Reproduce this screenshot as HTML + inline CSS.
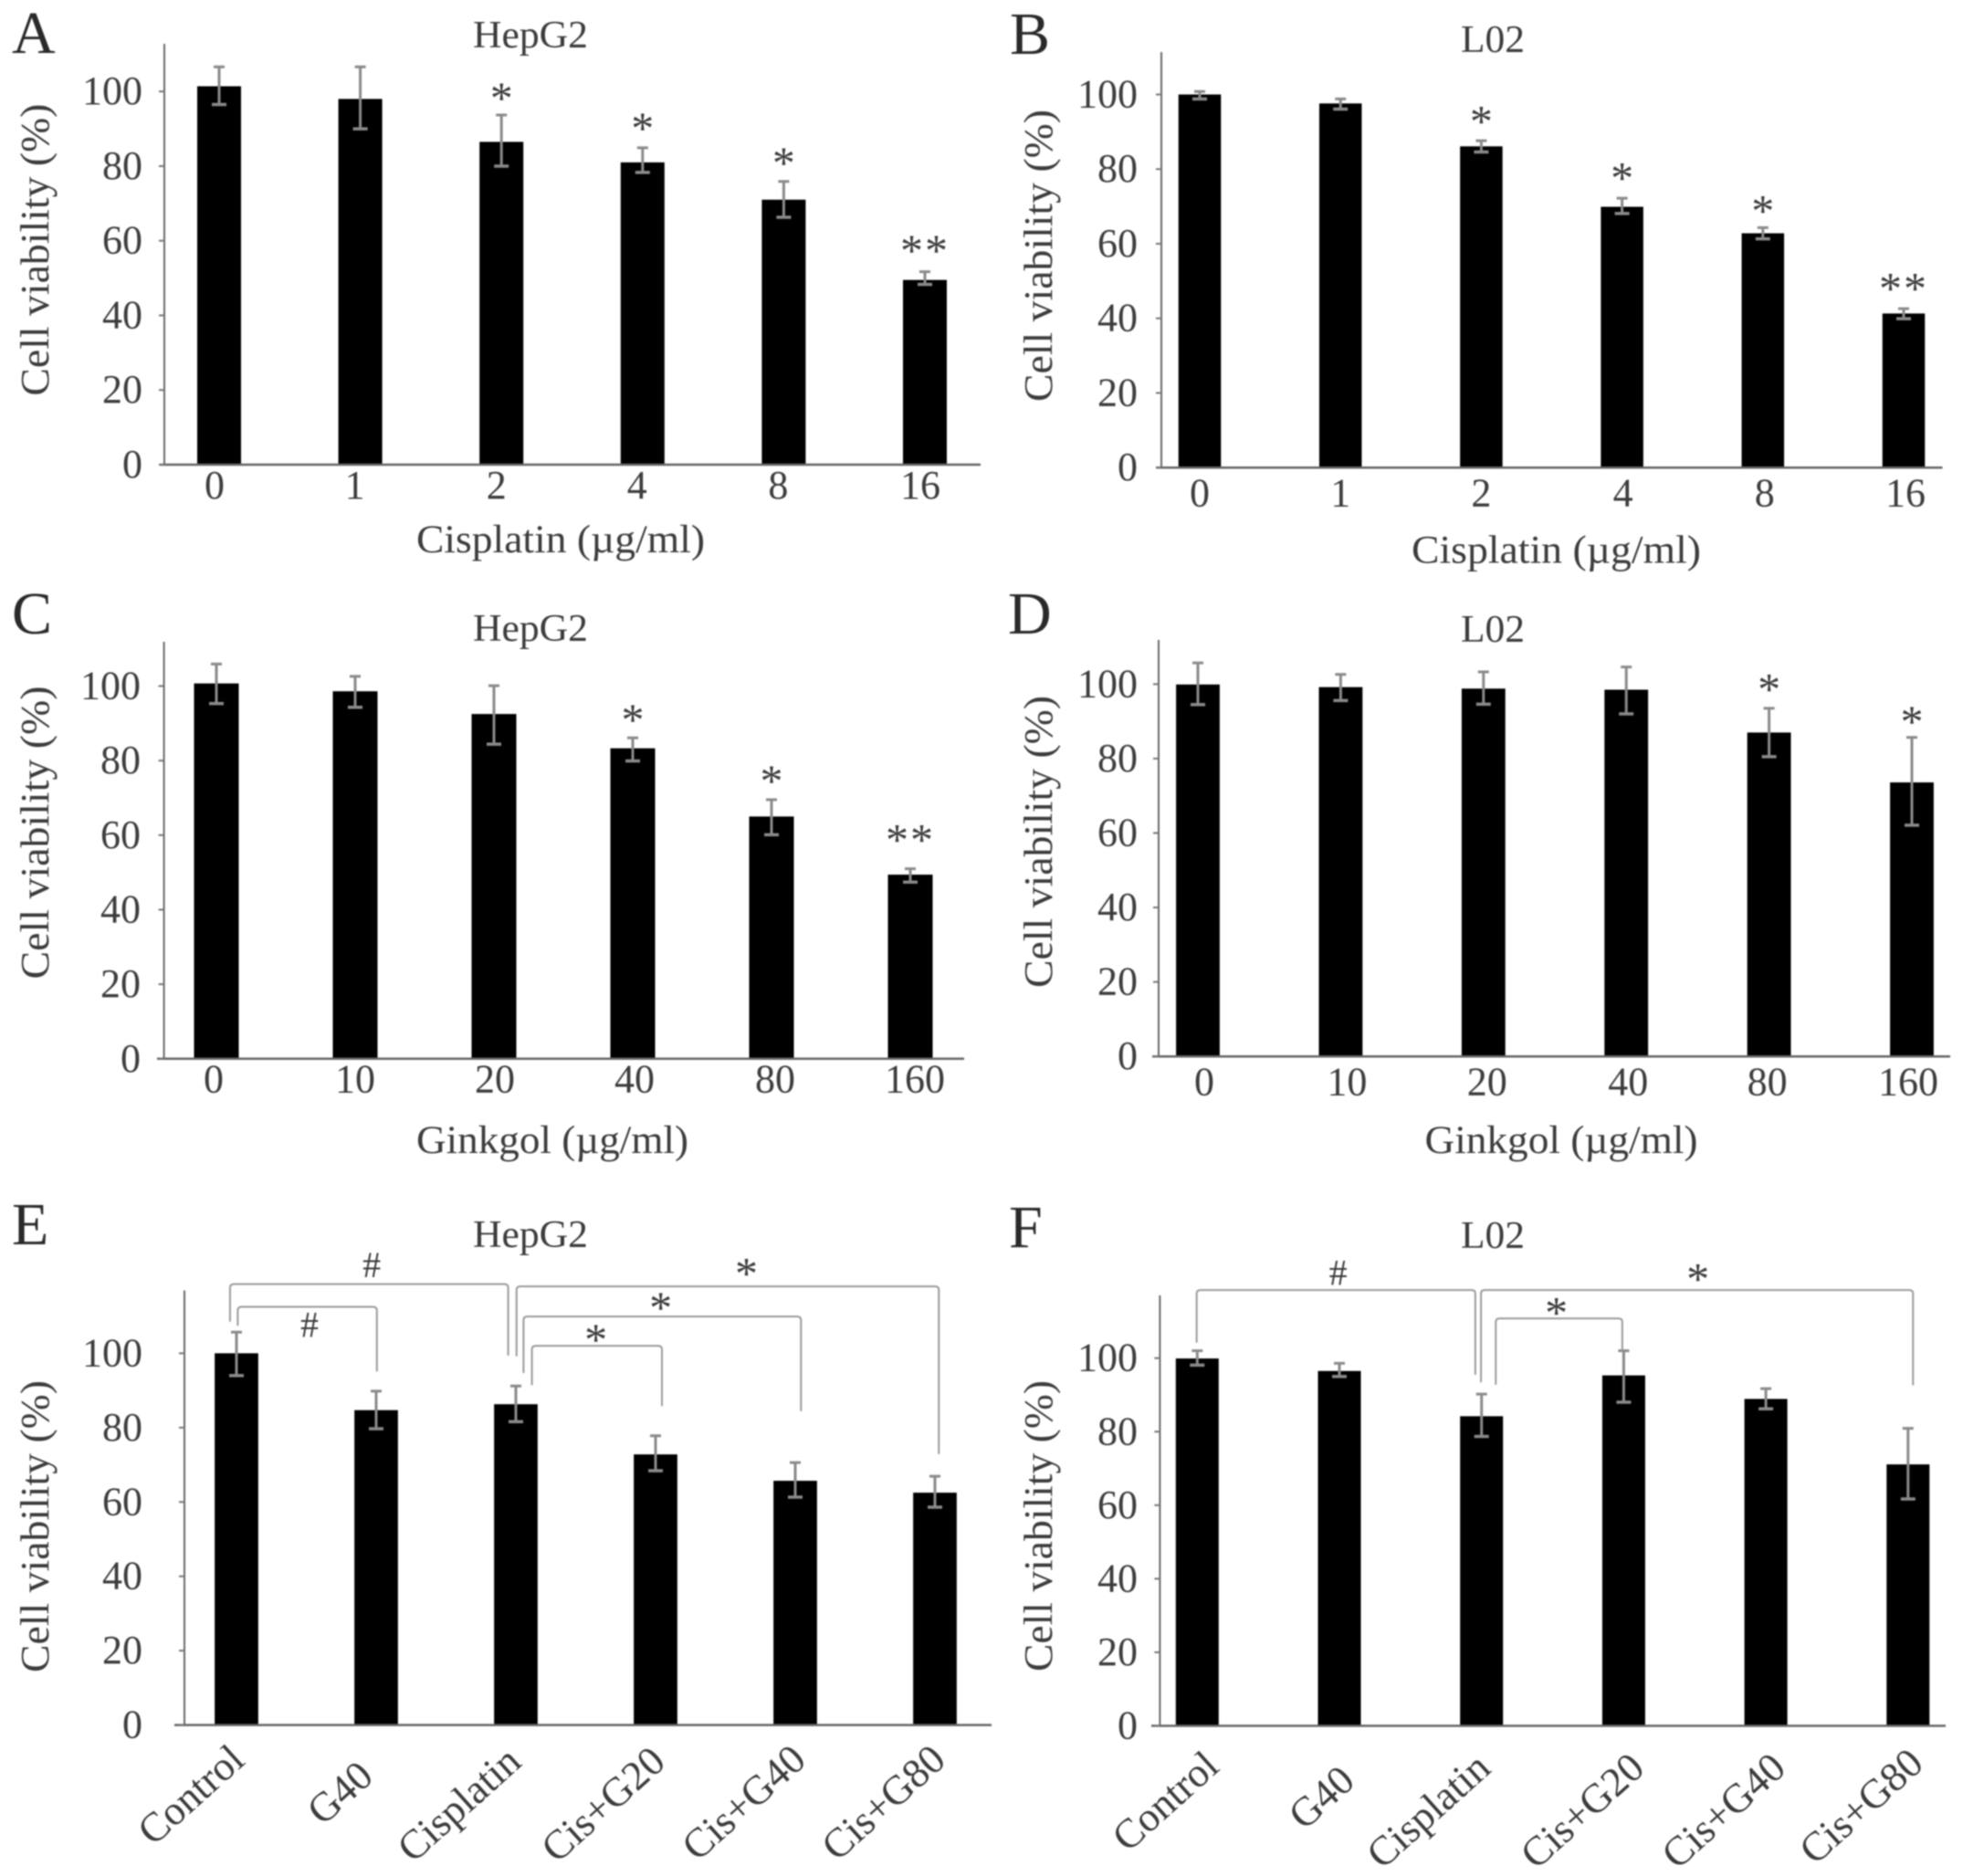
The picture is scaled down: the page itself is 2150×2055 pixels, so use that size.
<!DOCTYPE html>
<html lang="en">
<head>
<meta charset="utf-8">
<title>Cell viability panels</title>
<style>
html,body{margin:0;padding:0;background:#fff;}
svg{display:block;filter:blur(0.7px);}
text{font-family:"Liberation Serif",serif;fill:#3c3c3c;}
.letter{font-size:66px;fill:#2a2a2a;}
.ptitle{font-size:42px;text-anchor:middle;}
.xtitle{font-size:43px;text-anchor:middle;}
.ytitle{font-size:44px;text-anchor:middle;}
.tick{font-size:44px;text-anchor:end;}
.cat{font-size:44px;text-anchor:middle;}
.catrot{font-size:45px;text-anchor:end;}
.sig{font-size:50px;text-anchor:middle;}
.hash{font-size:40px;text-anchor:middle;}
</style>
</head>
<body>
<svg id="figure" xmlns="http://www.w3.org/2000/svg" width="2150" height="2055" viewBox="0 0 2150 2055">
<rect x="0" y="0" width="2150" height="2055" fill="#fff"/>

<text class="letter" x="13" y="58">A</text>
<text class="ptitle" x="581" y="52" textLength="126" lengthAdjust="spacingAndGlyphs">HepG2</text>
<text class="ytitle" transform="translate(53,273.6) rotate(-90)" textLength="320" lengthAdjust="spacingAndGlyphs">Cell viability (%)</text>
<text class="xtitle" x="614" y="605" textLength="316" lengthAdjust="spacingAndGlyphs">Cisplatin (µg/ml)</text>

<text class="letter" x="1106" y="59">B</text>
<text class="ptitle" x="1635" y="57" textLength="70" lengthAdjust="spacingAndGlyphs">L02</text>
<text class="ytitle" transform="translate(1152,280) rotate(-90)" textLength="320" lengthAdjust="spacingAndGlyphs">Cell viability (%)</text>
<text class="xtitle" x="1704.5" y="616.5" textLength="317" lengthAdjust="spacingAndGlyphs">Cisplatin (µg/ml)</text>

<text class="letter" x="13" y="694">C</text>
<text class="ptitle" x="581" y="702" textLength="126" lengthAdjust="spacingAndGlyphs">HepG2</text>
<text class="ytitle" transform="translate(53,912) rotate(-90)" textLength="321" lengthAdjust="spacingAndGlyphs">Cell viability (%)</text>
<text class="xtitle" x="605" y="1263" textLength="298" lengthAdjust="spacingAndGlyphs">Ginkgol (µg/ml)</text>

<text class="letter" x="1104" y="694">D</text>
<text class="ptitle" x="1635" y="703" textLength="70" lengthAdjust="spacingAndGlyphs">L02</text>
<text class="ytitle" transform="translate(1152,922) rotate(-90)" textLength="320" lengthAdjust="spacingAndGlyphs">Cell viability (%)</text>
<text class="xtitle" x="1710" y="1263" textLength="299" lengthAdjust="spacingAndGlyphs">Ginkgol (µg/ml)</text>

<text class="letter" x="13" y="1363">E</text>
<text class="ptitle" x="581" y="1366" textLength="126" lengthAdjust="spacingAndGlyphs">HepG2</text>
<text class="ytitle" transform="translate(53,1672) rotate(-90)" textLength="320" lengthAdjust="spacingAndGlyphs">Cell viability (%)</text>

<text class="letter" x="1105" y="1366">F</text>
<text class="ptitle" x="1635" y="1367" textLength="70" lengthAdjust="spacingAndGlyphs">L02</text>
<text class="ytitle" transform="translate(1152,1671.5) rotate(-90)" textLength="319" lengthAdjust="spacingAndGlyphs">Cell viability (%)</text>
</svg>

<script>
// ---------- shared tick labels ----------
var yTicks = [0, 20, 40, 60, 80, 100];

// ---------- panel A ----------
var aCategories = ['0', '1', '2', '4', '8', '16'];
var aValues = [101.4, 98.0, 86.5, 81.0, 71.0, 49.5];
var aErrHigh = [106.6, 106.6, 93.7, 84.9, 75.9, 51.7];
var aErrLow = [96.5, 90.0, 80.0, 78.3, 66.3, 48.3];
var aMarks = ['', '', '*', '*', '*', '**'];
var aMarkLevels = [0, 0, 99.8, 91.7, 82.4, 59.0];

// ---------- panel B ----------
var bCategories = ['0', '1', '2', '4', '8', '16'];
var bValues = [100.0, 97.6, 86.1, 69.9, 62.8, 41.3];
var bErrHigh = [100.8, 98.8, 87.6, 72.2, 64.3, 42.6];
var bErrLow = [98.8, 96.1, 84.6, 68.1, 61.3, 39.9];
var bMarks = ['', '', '*', '*', '*', '**'];
var bMarkLevels = [0, 0, 94.4, 79.2, 70.4, 49.6];

// ---------- panel C ----------
var cCategories = ['0', '10', '20', '40', '80', '160'];
var cValues = [100.7, 98.6, 92.5, 83.3, 65.0, 49.4];
var cErrHigh = [105.9, 102.6, 100.1, 86.1, 69.5, 51.0];
var cErrLow = [95.3, 94.3, 84.4, 79.9, 60.1, 47.4];
var cMarks = ['', '', '', '*', '*', '**'];
var cMarkLevels = [0, 0, 0, 92.5, 76.1, 60.3];

// ---------- panel D ----------
var dCategories = ['0', '10', '20', '40', '80', '160'];
var dValues = [99.9, 99.2, 98.8, 98.5, 87.0, 73.6];
var dErrHigh = [105.7, 102.6, 103.3, 104.6, 93.5, 85.7];
var dErrLow = [94.5, 95.6, 94.6, 92.0, 80.5, 62.1];
var dMarks = ['', '', '', '', '*', '*'];
var dMarkLevels = [0, 0, 0, 0, 100.2, 91.5];

// ---------- panel E ----------
var eCategories = ['Control', 'G40', 'Cisplatin', 'Cis+G20', 'Cis+G40', 'Cis+G80'];
var eValues = [100.0, 84.7, 86.3, 72.8, 65.7, 62.5];
var eErrHigh = [105.7, 89.8, 91.2, 77.8, 70.6, 66.9];
var eErrLow = [94.0, 79.7, 81.6, 68.4, 61.3, 58.6];
// brackets in data space: [category from, category to, top value, left end value, right end value]
var eBrackets = [
  [-0.046, 1.945, 118.6, 108.5, 99.4],
  [0.009, 1.005, 112.5, 107.4, 95.1],
  [2.005, 5.028, 118.0, 99.2, 72.9],
  [2.055, 4.041, 109.9, 94.7, 84.4],
  [2.115, 3.046, 102.0, 91.4, 85.8]
];
var eBracketSymbols = ['#', '#', '*', '*', '*'];
var eSymbolCategory = [0.968, 0.523, 3.65, 3.037, 2.573];
var eSymbolLevel = [123.7, 107.6, 123.1, 113.8, 105.3];

// ---------- panel F ----------
var fCategories = ['Control', 'G40', 'Cisplatin', 'Cis+G20', 'Cis+G40', 'Cis+G80'];
var fValues = [99.9, 96.5, 84.2, 95.3, 88.9, 71.1];
var fErrHigh = [102.0, 98.6, 90.2, 102.0, 91.7, 80.9];
var fErrLow = [98.1, 95.0, 78.7, 88.0, 86.2, 61.7];
var fBrackets = [
  [-0.004, 1.956, 118.5, 104.2, 95.5],
  [1.996, 5.035, 118.5, 93.4, 92.6],
  [2.1, 2.99, 110.8, 92.8, 102.0]
];
var fBracketSymbols = ['#', '*', '*'];
var fSymbolCategory = [0.991, 3.522, 2.526];
var fSymbolLevel = [123.1, 123.1, 114.0];

// ---------- rendering ----------
var NS = 'http://www.w3.org/2000/svg';
var root = document.getElementById('figure');

function make(tag, parent, attrs, txt) {
  var el = document.createElementNS(NS, tag);
  for (var k in attrs) el.setAttribute(k, attrs[k]);
  if (txt !== undefined) el.textContent = txt;
  parent.appendChild(el);
  return el;
}

function drawPanel(p) {
  var g = make('g', root, {});
  
  

  var unit = (p.base - p.y100) / 100;
  function yAt(v) { return p.base - v * unit; }
  function xAt(i) { return p.x0 + i * p.step; }

  // bars
  p.values.forEach(function (v, i) {
    var bar = make('rect', g, {x: xAt(i) - p.barW / 2, y: yAt(v), width: p.barW, height: p.base - yAt(v), fill: '#000'});
    
    
  });

  // error bars
  p.values.forEach(function (v, i) {
    var x = xAt(i), yh = yAt(p.errHigh[i]), yl = yAt(p.errLow[i]);
    var eb = make('path', g, {
      d: 'M' + x + ' ' + yh + 'V' + yl + 'M' + (x - 6) + ' ' + yh + 'H' + (x + 6),
      stroke: '#8a8a8a', 'stroke-width': 3, fill: 'none'
    });
    
    
    var cap = make('line', g, {x1: x - 8, x2: x + 8, y1: yl, y2: yl, stroke: '#8a8a8a', 'stroke-width': 3.5});
    
    
  });

  // axes
  var yAxis = make('line', g, {x1: p.axisX, x2: p.axisX, y1: p.axisTop, y2: p.base, stroke: '#6a6a6a', 'stroke-width': 2});
  
  
  var xAxis = make('line', g, {x1: p.xLeft, x2: p.xRight, y1: p.base, y2: p.base, stroke: '#666', 'stroke-width': 2.5});
  
  

  // y ticks and labels
  yTicks.forEach(function (t) {
    var y = yAt(t);
    var mark = make('line', g, {x1: p.axisX - 6, x2: p.axisX, y1: y, y2: y, stroke: '#777', 'stroke-width': 2});
    
    
    var lab = make('text', g, {'class': 'tick', x: p.tickRight, y: y + 14}, String(t));
    
    
  });

  // category labels
  p.categories.forEach(function (c, i) {
    var lab;
    if (p.rotated) {
      var lx = xAt(i) + p.labelDx[i], ly = p.labelY[i];
      lab = make('text', g, {'class': 'catrot', transform: 'translate(' + lx + ',' + ly + ') rotate(-42)'}, c);
    } else {
      lab = make('text', g, {'class': 'cat', x: xAt(i) + p.labelDx[i], y: p.labelY}, c);
    }
    
    
  });

  // significance marks above bars
  if (p.marks) {
    p.marks.forEach(function (m, i) {
      if (!m) return;
      var star = make('text', g, {'class': 'sig', x: xAt(i), y: yAt(p.markLevels[i]) + 23, 'letter-spacing': m.length > 1 ? 2 : 0}, m);
      
      
    });
  }

  // comparison brackets
  if (p.brackets) {
    p.brackets.forEach(function (b) {
      var xl = xAt(b[0]), xr = xAt(b[1]), yt = yAt(b[2]), r = 4;
      var path = make('path', g, {
        d: 'M' + xl + ' ' + yAt(b[3]) + 'V' + (yt + r) + 'Q' + xl + ' ' + yt + ' ' + (xl + r) + ' ' + yt +
           'H' + (xr - r) + 'Q' + xr + ' ' + yt + ' ' + xr + ' ' + (yt + r) + 'V' + yAt(b[4]),
        stroke: '#9a9a9a', 'stroke-width': 2, fill: 'none'
      });
      
      
    });
    p.symbols.forEach(function (s, i) {
      var isHash = s === '#';
      var sym = make('text', g, {
        'class': isHash ? 'hash' : 'sig',
        x: xAt(p.symbolCategory[i]),
        y: yAt(p.symbolLevel[i]) + (isHash ? 13 : 23)
      }, s);
      
      
    });
  }
}

drawPanel({id: 'a', categories: aCategories, values: aValues, errHigh: aErrHigh, errLow: aErrLow, marks: aMarks, markLevels: aMarkLevels,
  x0: 240, step: 154.6, barW: 48, base: 509, y100: 100.2, axisX: 180, axisTop: 48, xLeft: 175, xRight: 1074, tickRight: 156,
  labelDx: [-5, -6, -5.5, -6, -6, -5], labelY: 546});
drawPanel({id: 'b', categories: bCategories, values: bValues, errHigh: bErrHigh, errLow: bErrLow, marks: bMarks, markLevels: bMarkLevels,
  x0: 1314, step: 154.2, barW: 46.5, base: 512.2, y100: 103.5, axisX: 1272, axisTop: 57, xLeft: 1266, xRight: 2127.5, tickRight: 1246,
  labelDx: [0, 0, 0, 1, 2, 2], labelY: 554.5});
drawPanel({id: 'c', categories: cCategories, values: cValues, errHigh: cErrHigh, errLow: cErrLow, marks: cMarks, markLevels: cMarkLevels,
  x0: 237, step: 152, barW: 49, base: 1159.8, y100: 751.5, axisX: 179.6, axisTop: 703, xLeft: 172, xRight: 1056, tickRight: 154,
  labelDx: [-3, 0, 1, 2, 4, 5], labelY: 1196.5});
drawPanel({id: 'd', categories: dCategories, values: dValues, errHigh: dErrHigh, errLow: dErrLow, marks: dMarks, markLevels: dMarkLevels,
  x0: 1312, step: 156.4, barW: 47.8, base: 1157.2, y100: 749.4, axisX: 1269, axisTop: 701, xLeft: 1262, xRight: 2136, tickRight: 1246,
  labelDx: [7, 7, 4, 2, -2, -4], labelY: 1199.5});
drawPanel({id: 'e', categories: eCategories, values: eValues, errHigh: eErrHigh, errLow: eErrLow,
  brackets: eBrackets, symbols: eBracketSymbols, symbolCategory: eSymbolCategory, symbolLevel: eSymbolLevel,
  x0: 259, step: 153, barW: 47.7, base: 1889.6, y100: 1482.4, axisX: 202, axisTop: 1413.6, xLeft: 191, xRight: 1086, tickRight: 156,
  rotated: true, labelDx: [11, -1, 8, 13, 14, 14], labelY: [1931, 1949, 1933, 1933, 1931, 1931]});
drawPanel({id: 'f', categories: fCategories, values: fValues, errHigh: fErrHigh, errLow: fErrLow,
  brackets: fBrackets, symbols: fBracketSymbols, symbolCategory: fSymbolCategory, symbolLevel: fSymbolLevel,
  x0: 1311.3, step: 155.7, barW: 47, base: 1890.5, y100: 1487.7, axisX: 1270.4, axisTop: 1419, xLeft: 1261, xRight: 2131, tickRight: 1246,
  rotated: true, labelDx: [26, 19, 12, 25, 24, 19], labelY: [1938, 1954, 1940, 1940, 1940, 1935]});
</script>
</body>
</html>
